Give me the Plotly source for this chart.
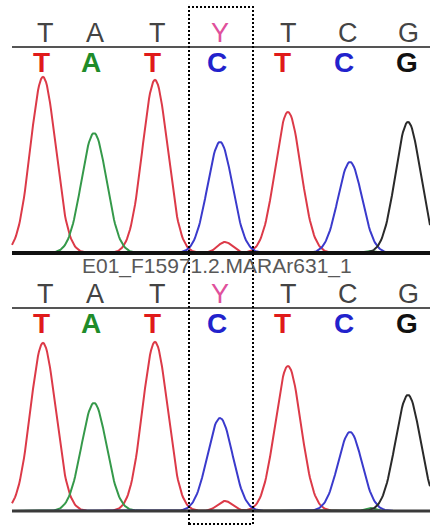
import numpy as np
import plotly.graph_objects as go

W, H = 430, 526

# ---- data ----
sample_name = "E01_F15971.2.MARAr631_1"
consensus_bases = ["T", "A", "T", "Y", "T", "C", "G"]
consensus_pos = [45, 95, 157, 220, 288, 348, 408]
called_bases = ["T", "A", "T", "C", "T", "C", "G"]
called_pos = [41, 91, 152, 217, 282, 344, 407]

# peaks per channel: position, height (upper trace), height (lower trace), width
T_pos = [43, 155, 225, 288]
T_top = [176, 173, 11, 141]
T_bot = [168, 169, 10, 145]
T_wid = [12.5, 12.5, 7.5, 12.8]

A_pos = [94, 370]
A_top = [120, 2]
A_bot = [108, 3]
A_wid = [12.5, 5]

C_pos = [220, 350]
C_top = [111, 91]
C_bot = [93, 79]
C_wid = [12.5, 12]

G_pos = [408]
G_top = [131]
G_bot = [116]
G_wid = [12.5]

scan = np.arange(12, 431, 1.0)

trace_colors = {"T": "#dc3a48", "A": "#35994a", "C": "#3a3acc", "G": "#2a2a2a"}
letter_colors = {"T": "#e01a1a", "A": "#1f8c2a", "C": "#2222cc", "G": "#111111"}
gray_letter = "#444444"
ambig_color = "#e0509c"


def channel(pos, hts, wid):
    y = np.zeros_like(scan)
    for p, h, w in zip(pos, hts, wid):
        y += h * np.exp(-0.5 * ((scan - p) / w) ** 2)
    return y


def py(p):
    return 1 - p / H


fig = go.Figure()

channels = [("T", T_pos, T_top, T_bot, T_wid),
            ("A", A_pos, A_top, A_bot, A_wid),
            ("C", C_pos, C_top, C_bot, C_wid),
            ("G", G_pos, G_top, G_bot, G_wid)]

for name, pos, top, bot, wid in channels:
    fig.add_trace(go.Scatter(x=scan, y=channel(pos, top, wid), mode="lines",
                             line=dict(color=trace_colors[name], width=2),
                             yaxis="y", showlegend=False, hoverinfo="skip"))
    fig.add_trace(go.Scatter(x=scan, y=channel(pos, bot, wid), mode="lines",
                             line=dict(color=trace_colors[name], width=2),
                             yaxis="y2", showlegend=False, hoverinfo="skip"))

annotations = []
for row_gray, row_col in [(33, 62), (294, 323)]:
    for b, x in zip(consensus_bases, consensus_pos):
        annotations.append(dict(
            x=x, y=py(row_gray), xref="x", yref="paper", text=b, showarrow=False,
            font=dict(family="Liberation Sans, Arial, sans-serif", size=27,
                      color=ambig_color if b == "Y" else gray_letter),
            xanchor="center", yanchor="middle"))
    for b, x in zip(called_bases, called_pos):
        annotations.append(dict(
            x=x, y=py(row_col), xref="x", yref="paper", text="<b>%s</b>" % b,
            showarrow=False,
            font=dict(family="Liberation Sans, Arial, sans-serif",
                      size=28, color=letter_colors[b]),
            xanchor="center", yanchor="middle"))

annotations.append(dict(
    x=217, y=py(266), xref="x", yref="paper", text=sample_name, showarrow=False,
    font=dict(family="Liberation Sans, Arial, sans-serif", size=21, color="#585858"),
    xanchor="center", yanchor="middle"))

shapes = []
# lines under consensus letters
for yy in [47, 308]:
    shapes.append(dict(type="line", xref="x", yref="paper", x0=12, x1=430,
                       y0=py(yy), y1=py(yy), line=dict(color="#555555", width=2)))
# baselines
shapes.append(dict(type="line", xref="x", yref="paper", x0=12, x1=430,
                   y0=py(253), y1=py(253), line=dict(color="#111111", width=4), layer="above"))
shapes.append(dict(type="line", xref="x", yref="paper", x0=12, x1=430,
                   y0=py(511), y1=py(511), line=dict(color="#3a3a3a", width=3), layer="above"))
# dotted selection box
shapes.append(dict(type="rect", xref="x", yref="paper", x0=189, x1=253,
                   y0=py(524), y1=py(7), line=dict(color="#000000", width=2, dash="2px,2px"),
                   layer="above"))

fig.update_layout(
    width=W, height=H, margin=dict(l=0, r=0, t=0, b=0),
    paper_bgcolor="white", plot_bgcolor="white",
    xaxis=dict(range=[0, 430], visible=False, fixedrange=True),
    yaxis=dict(range=[-4, 196], domain=[py(257), py(57)], visible=False, fixedrange=True),
    yaxis2=dict(range=[-4, 196], domain=[py(515), py(315)], visible=False, fixedrange=True),
    annotations=annotations, shapes=shapes,
)

fig.write_html("out.html", config={"displayModeBar": False, "staticPlot": True},
               post_script="document.body.style.margin='0';document.body.style.overflow='hidden';")
